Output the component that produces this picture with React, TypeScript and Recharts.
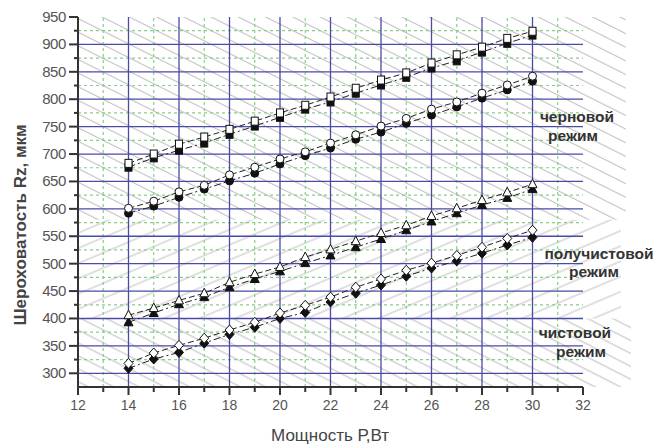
import React from 'react';
import { LineChart, Line, XAxis, YAxis, ReferenceLine, ReferenceArea } from 'recharts';

// ---- data ----
const power = [14, 15, 16, 17, 18, 19, 20, 21, 22, 23, 24, 25, 26, 27, 28, 29, 30];

const roughOpen = [683, 700, 718, 731, 745, 760, 775, 789, 804, 820, 835, 848, 866, 881, 895, 911, 924];
const roughFilled = [676, 693, 707, 720, 736, 751, 767, 782, 795, 811, 826, 840, 857, 870, 886, 902, 917];

const rough2Open = [601, 614, 631, 643, 662, 676, 691, 704, 720, 735, 751, 765, 782, 795, 811, 826, 842];
const rough2Filled = [592, 605, 621, 636, 651, 665, 682, 697, 711, 727, 740, 756, 771, 786, 802, 817, 833];

const semiOpen = [406, 419, 433, 446, 466, 481, 494, 512, 526, 541, 556, 570, 587, 601, 616, 630, 645];
const semiFilled = [393, 410, 426, 439, 457, 472, 486, 501, 515, 530, 545, 561, 577, 592, 607, 620, 636];

const fineOpen = [318, 337, 351, 364, 379, 393, 410, 424, 439, 457, 472, 488, 501, 515, 530, 546, 561];
const fineFilled = [309, 326, 338, 355, 371, 384, 400, 411, 430, 446, 461, 477, 492, 505, 519, 534, 548];

const xTicks = [12, 13, 14, 15, 16, 17, 18, 19, 20, 21, 22, 23, 24, 25, 26, 27, 28, 29, 30, 31, 32];
const yTicks = [300, 325, 350, 375, 400, 425, 450, 475, 500, 525, 550, 575, 600, 625, 650, 675, 700, 725, 750, 775, 800, 825, 850, 875, 900, 925, 950];
const xMajorGrid = [14, 16, 18, 20, 22, 24, 26, 28, 30];
const xMinorGrid = [13, 15, 17, 19, 21, 23, 25, 27, 29, 31];
const yMajorGrid = [300, 350, 400, 450, 500, 550, 600, 650, 700, 750, 800, 850, 900];
const yMinorGrid = [325, 375, 425, 475, 525, 575, 625, 675, 725, 775, 825, 875, 925];

// hatch zones (value bounds)
const zoneRough = [580, 950];
const zoneSemi = [400, 580];
const zoneFine = [275, 400];

const data = power.map((p, i) => ({
  p,
  roughOpen: roughOpen[i],
  roughFilled: roughFilled[i],
  rough2Open: rough2Open[i],
  rough2Filled: rough2Filled[i],
  semiOpen: semiOpen[i],
  semiFilled: semiFilled[i],
  fineOpen: fineOpen[i],
  fineFilled: fineFilled[i],
}));

const FONT = '"Liberation Sans", Arial, sans-serif';

type Shape = 'square' | 'circle' | 'triangle' | 'diamond';

function makeDot(shape: Shape, filled: boolean) {
  return (props: any) => {
    const { cx, cy, index } = props;
    if (cx == null || cy == null) return <g key={`d${index}`} />;
    const fill = filled ? '#111' : '#fff';
    const stroke = '#111';
    const sw = 1;
    if (shape === 'square') {
      return <rect key={`d${index}`} x={cx - 3.5} y={cy - 4} width={7} height={8} fill={fill} stroke={stroke} strokeWidth={sw} />;
    }
    if (shape === 'circle') {
      return <circle key={`d${index}`} cx={cx} cy={cy} r={4} fill={fill} stroke={stroke} strokeWidth={sw} />;
    }
    if (shape === 'triangle') {
      const pts = `${cx},${cy - 5} ${cx - 4.5},${cy + 3.5} ${cx + 4.5},${cy + 3.5}`;
      return <polygon key={`d${index}`} points={pts} fill={fill} stroke={stroke} strokeWidth={sw} />;
    }
    const pts = `${cx},${cy - 5} ${cx + 4.5},${cy} ${cx},${cy + 5} ${cx - 4.5},${cy}`;
    return <polygon key={`d${index}`} points={pts} fill={fill} stroke={stroke} strokeWidth={sw} />;
  };
}

const XTick = (props: any) => {
  const { x, y, payload } = props;
  const v = payload.value;
  const major = v % 2 === 0;
  return (
    <g>
      <line x1={x} y1={y} x2={x} y2={y + (major ? 8 : 5)} stroke="#333" strokeWidth={2} />
      {major && (
        <text x={x} y={y + 23} textAnchor="middle" fontFamily={FONT} fontSize={14} fill="#555">
          {v}
        </text>
      )}
    </g>
  );
};

const YTick = (props: any) => {
  const { x, y, payload } = props;
  const v = payload.value;
  const major = v % 50 === 0;
  return (
    <g>
      <line x1={x} y1={y} x2={x - (major ? 9 : 4)} y2={y} stroke="#333" strokeWidth={2} />
      {major && (
        <text x={x - 12} y={y + 5} textAnchor="end" fontFamily={FONT} fontSize={15} fill="#555" letterSpacing={-0.4}>
          {v}
        </text>
      )}
    </g>
  );
};

export default function App() {
  return (
    <div style={{ position: 'fixed', left: 0, top: 0, width: 655, height: 446, background: '#fff', overflow: 'hidden' }}>
      <LineChart width={655} height={446} data={data} margin={{ top: 17, right: 72, bottom: 29, left: 0 }}>
        <defs>
          <pattern id="hatchDown" patternUnits="userSpaceOnUse" width="40" height="12.2" patternTransform="rotate(26.6)">
            <line x1="0" y1="6" x2="40" y2="6" stroke="#ababab" strokeWidth="0.8" />
          </pattern>
          <pattern id="hatchUp" patternUnits="userSpaceOnUse" width="40" height="14" patternTransform="rotate(-23)">
            <line x1="0" y1="7" x2="40" y2="7" stroke="#b0b0b0" strokeWidth="0.8" />
          </pattern>
          <pattern id="hatchDown2" patternUnits="userSpaceOnUse" width="40" height="11.5" patternTransform="rotate(27)">
            <line x1="0" y1="5.6" x2="40" y2="5.6" stroke="#ababab" strokeWidth="0.8" />
          </pattern>
        </defs>
        <XAxis
          dataKey="p"
          type="number"
          domain={[12, 32]}
          ticks={xTicks}
          interval={0}
          tickSize={0}
          tickMargin={0}
          tick={<XTick />}
          axisLine={{ stroke: '#333', strokeWidth: 2 }}
          height={30}
          allowDataOverflow
        />
        <YAxis
          type="number"
          domain={[275, 950]}
          ticks={yTicks}
          interval={0}
          tickSize={0}
          tickMargin={0}
          tick={<YTick />}
          axisLine={{ stroke: '#333', strokeWidth: 2 }}
          width={78}
          allowDataOverflow
        />
        <ReferenceArea x1={12} x2={33.7} y1={zoneRough[0]} y2={zoneRough[1]} fill="url(#hatchDown)" fillOpacity={1} stroke="none" ifOverflow="visible" />
        <ReferenceArea x1={12} x2={33.5} y1={zoneSemi[0]} y2={zoneSemi[1]} fill="url(#hatchUp)" fillOpacity={1} stroke="none" ifOverflow="visible" />
        <ReferenceArea x1={12} x2={33.9} y1={zoneFine[0]} y2={zoneFine[1]} fill="url(#hatchDown2)" fillOpacity={1} stroke="none" ifOverflow="visible" />

        {xMinorGrid.map((v) => (
          <ReferenceLine key={`gx${v}`} x={v} stroke="#86d086" strokeWidth={1.2} strokeDasharray="3 3" />
        ))}
        {yMinorGrid.map((v) => (
          <ReferenceLine key={`gy${v}`} y={v} stroke="#86d086" strokeWidth={1.2} strokeDasharray="3 3" />
        ))}
        {xMajorGrid.map((v) => (
          <ReferenceLine key={`bx${v}`} x={v} stroke="#4a4aa8" strokeWidth={1.3} />
        ))}
        {yMajorGrid.map((v) => (
          <ReferenceLine key={`by${v}`} y={v} stroke="#4a4aa8" strokeWidth={1.3} />
        ))}

        <Line dataKey="roughFilled" stroke="#222" strokeWidth={1} strokeDasharray="7 3 2 3" dot={makeDot('square', true)} isAnimationActive={false} />
        <Line dataKey="roughOpen" stroke="#222" strokeWidth={1} strokeDasharray="6 3" dot={makeDot('square', false)} isAnimationActive={false} />
        <Line dataKey="rough2Filled" stroke="#222" strokeWidth={1} strokeDasharray="7 3 2 3" dot={makeDot('circle', true)} isAnimationActive={false} />
        <Line dataKey="rough2Open" stroke="#222" strokeWidth={1} strokeDasharray="6 3" dot={makeDot('circle', false)} isAnimationActive={false} />
        <Line dataKey="semiFilled" stroke="#222" strokeWidth={1} strokeDasharray="7 3 2 3" dot={makeDot('triangle', true)} isAnimationActive={false} />
        <Line dataKey="semiOpen" stroke="#222" strokeWidth={1} strokeDasharray="6 3" dot={makeDot('triangle', false)} isAnimationActive={false} />
        <Line dataKey="fineFilled" stroke="#222" strokeWidth={1} strokeDasharray="7 3 2 3" dot={makeDot('diamond', true)} isAnimationActive={false} />
        <Line dataKey="fineOpen" stroke="#222" strokeWidth={1} strokeDasharray="6 3" dot={makeDot('diamond', false)} isAnimationActive={false} />
      </LineChart>

      <svg width={655} height={446} style={{ position: 'absolute', left: 0, top: 0, pointerEvents: 'none' }}>
        <text
          x={0}
          y={0}
          transform="translate(26 225) rotate(-90)"
          textAnchor="middle"
          fontFamily={FONT}
          fontWeight="bold"
          fontSize={17}
          fill="#444"
        >
          Шероховатость Rz, мкм
        </text>
        <text x={330} y={441} textAnchor="middle" fontFamily={FONT} fontSize={17} fill="#444">
          Мощность Р,Вт
        </text>
        <g fontFamily={FONT} fontWeight="bold" fontSize={15.5} fill="#333" textAnchor="middle">
          <text x={577} y={122}>черновой</text>
          <text x={573} y={141}>режим</text>
          <text x={599} y={259}>получистовой</text>
          <text x={594} y={277}>режим</text>
          <text x={575} y={338}>чистовой</text>
          <text x={581} y={357}>режим</text>
        </g>
      </svg>
    </div>
  );
}
